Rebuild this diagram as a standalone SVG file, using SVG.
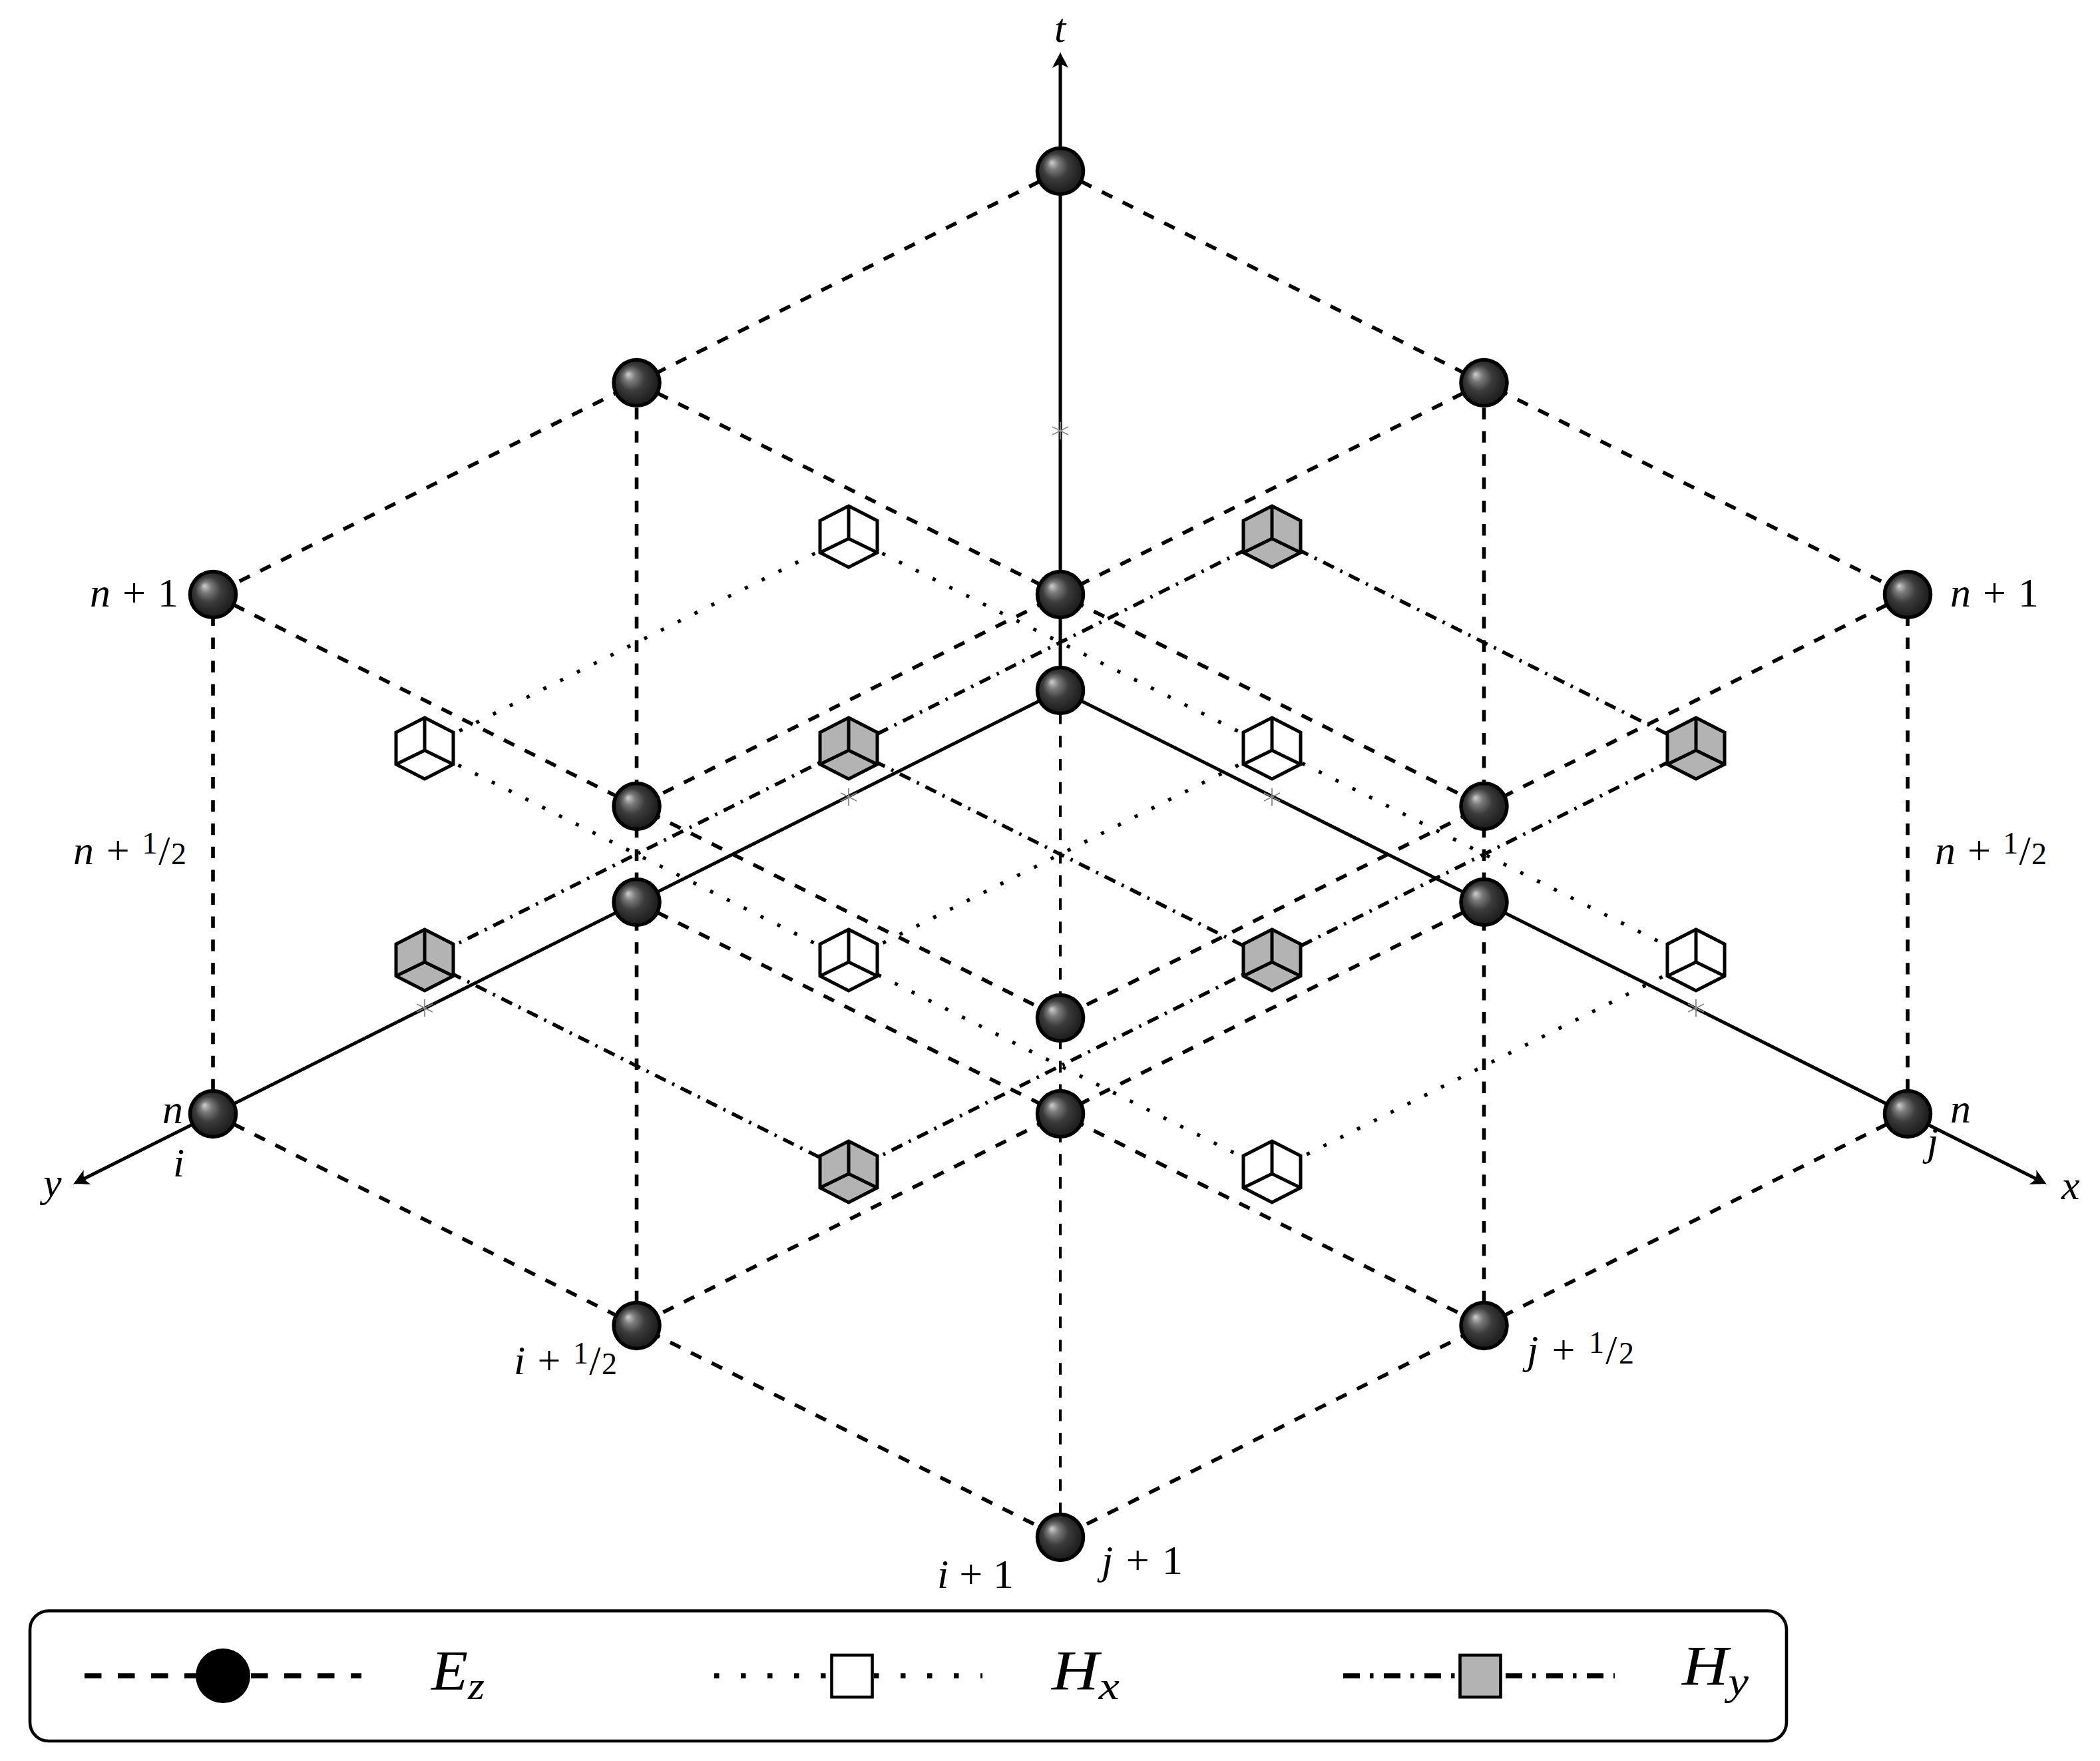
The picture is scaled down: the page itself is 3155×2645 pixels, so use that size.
<svg xmlns="http://www.w3.org/2000/svg" width="3155" height="2645" viewBox="0 0 3155 2645">
<style>
line{fill:none;stroke:#000}
.d{stroke-width:5.6;stroke-dasharray:17.4 17.5}
.dt{stroke-width:4;stroke-dasharray:17.4 17.5}
.o{stroke-width:5.4;stroke-dasharray:5 23.2}
.a{stroke-width:5.4;stroke-dasharray:17.8 10.8 3.6 10.8}
.s{stroke-width:5}
.x{stroke:#888;stroke-width:1.8}
.ball{fill:url(#ball);stroke:#000;stroke-width:5.5}
.c{stroke:#000;stroke-width:5;stroke-linejoin:miter}
.w{fill:#fff}.g{fill:#b3b3b3}
.in{fill:none;stroke:#000;stroke-width:5}
text{font-family:"Liberation Serif","Times New Roman",serif;font-size:62px;fill:#000}
.i{font-style:italic}
.m{font-size:84px;font-style:italic}
.sub{font-size:60px}
.f{font-size:46px}
</style>
<defs>
<radialGradient id="ball" cx="0.5" cy="0.5" r="0.62" fx="0.31" fy="0.31">
<stop offset="0" stop-color="#d0d0d0"/>
<stop offset="0.2" stop-color="#7a7a7a"/>
<stop offset="0.45" stop-color="#3c3c3c"/>
<stop offset="0.75" stop-color="#222"/>
<stop offset="1" stop-color="#1a1a1a"/>
</radialGradient>
<marker id="arr" markerUnits="userSpaceOnUse" markerWidth="30" markerHeight="30" refX="11" refY="15" orient="auto" viewBox="0 0 30 30">
<path d="M27 15C21 13 16 9 3 3C6 8 8 12 8 15C8 18 6 22 3 27C16 21 21 17 27 15Z" fill="#000"/>
</marker>
<g id="wc"><path class="c w" d="M0 -46L43 -24V24L0 46L-43 24V-24Z"/><path class="in" d="M0 -46V3M0 3L-43 24M0 3L43 24"/></g>
<g id="gc"><path class="c g" d="M0 -46L43 -24V24L0 46L-43 24V-24Z"/><path class="in" d="M0 -46V3M0 3L-43 24M0 3L43 24"/></g>
<g id="cr"><path class="x" fill="none" d="M0 -13V13M-12 -6L12 6M12 -6L-12 6"/></g>
</defs>
<rect width="3155" height="2645" fill="#fff"/>
<g id="connectors">
<line class="s" x1="1593" y1="1037" x2="1593" y2="94" marker-end="url(#arr)"/>
<line class="s" x1="1593" y1="1037" x2="124" y2="1771.500" marker-end="url(#arr)"/>
<line class="s" x1="1593" y1="1037" x2="3061" y2="1771.500" marker-end="url(#arr)"/>
<line class="d" x1="1593" y1="257" x2="320" y2="893"/>
<line class="d" x1="1593" y1="257" x2="2866" y2="893"/>
<line class="d" x1="320" y1="893" x2="1593" y2="1529"/>
<line class="d" x1="2866" y1="893" x2="1593" y2="1529"/>
<line class="d" x1="956.500" y1="575" x2="2229.500" y2="1211"/>
<line class="d" x1="2229.500" y1="575" x2="956.500" y2="1211"/>
<line class="d" x1="320" y1="1673" x2="1593" y2="2309"/>
<line class="d" x1="2866" y1="1673" x2="1593" y2="2309"/>
<line class="d" x1="956.500" y1="1355" x2="2229.500" y2="1991"/>
<line class="d" x1="2229.500" y1="1355" x2="956.500" y2="1991"/>
<line class="d" x1="320" y1="1673" x2="320" y2="893"/>
<line class="d" x1="2866" y1="1673" x2="2866" y2="893"/>
<line class="d" x1="956.500" y1="1991" x2="956.500" y2="575"/>
<line class="d" x1="2229.500" y1="1991" x2="2229.500" y2="575"/>
<line class="dt" x1="1593" y1="2309" x2="1593" y2="1037"/>
<line class="o" x1="1275" y1="806" x2="2548" y2="1442"/>
<line class="o" x1="638" y1="1124" x2="1911" y2="1760"/>
<line class="o" x1="1275" y1="806" x2="638" y2="1124"/>
<line class="o" x1="1911" y1="1124" x2="1275" y2="1442"/>
<line class="o" x1="2548" y1="1442" x2="1911" y2="1760"/>
<line class="a" x1="1911" y1="806" x2="2548" y2="1124"/>
<line class="a" x1="1275" y1="1124" x2="1911" y2="1442"/>
<line class="a" x1="638" y1="1442" x2="1275" y2="1760"/>
<line class="a" x1="1911" y1="806" x2="638" y2="1442"/>
<line class="a" x1="2548" y1="1124" x2="1275" y2="1760"/>
</g>
<g id="marks">
<use href="#cr" x="1593" y="647"/>
<use href="#cr" x="1275" y="1197"/>
<use href="#cr" x="1911" y="1197"/>
<use href="#cr" x="638" y="1514"/>
<use href="#cr" x="2548" y="1514"/>
</g>
<g id="hx-1"><use href="#wc" x="1275" y="806"/></g>
<g id="hx-2"><use href="#wc" x="638" y="1124"/></g>
<g id="hx-3"><use href="#wc" x="1911" y="1124"/></g>
<g id="hx-4"><use href="#wc" x="1275" y="1442"/></g>
<g id="hx-5"><use href="#wc" x="2548" y="1442"/></g>
<g id="hx-6"><use href="#wc" x="1911" y="1760"/></g>
<g id="hy-1"><use href="#gc" x="1911" y="806"/></g>
<g id="hy-2"><use href="#gc" x="1275" y="1124"/></g>
<g id="hy-3"><use href="#gc" x="2548" y="1124"/></g>
<g id="hy-4"><use href="#gc" x="638" y="1442"/></g>
<g id="hy-5"><use href="#gc" x="1911" y="1442"/></g>
<g id="hy-6"><use href="#gc" x="1275" y="1760"/></g>
<g id="ez-top"><circle class="ball" cx="1593" cy="257" r="34.500"/></g>
<g id="ez-2"><circle class="ball" cx="956.500" cy="575" r="34.500"/></g>
<g id="ez-3"><circle class="ball" cx="2229.500" cy="575" r="34.500"/></g>
<g id="ez-4"><circle class="ball" cx="320" cy="893" r="34.500"/></g>
<g id="ez-5"><circle class="ball" cx="1593" cy="893" r="34.500"/></g>
<g id="ez-6"><circle class="ball" cx="2866" cy="893" r="34.500"/></g>
<g id="ez-7"><circle class="ball" cx="956.500" cy="1211" r="34.500"/></g>
<g id="ez-8"><circle class="ball" cx="2229.500" cy="1211" r="34.500"/></g>
<g id="ez-9"><circle class="ball" cx="1593" cy="1529" r="34.500"/></g>
<g id="ez-10"><circle class="ball" cx="1593" cy="1037" r="34.500"/></g>
<g id="ez-11"><circle class="ball" cx="956.500" cy="1355" r="34.500"/></g>
<g id="ez-12"><circle class="ball" cx="2229.500" cy="1355" r="34.500"/></g>
<g id="ez-13"><circle class="ball" cx="320" cy="1673" r="34.500"/></g>
<g id="ez-14"><circle class="ball" cx="1593" cy="1673" r="34.500"/></g>
<g id="ez-15"><circle class="ball" cx="2866" cy="1673" r="34.500"/></g>
<g id="ez-16"><circle class="ball" cx="956.500" cy="1991" r="34.500"/></g>
<g id="ez-17"><circle class="ball" cx="2229.500" cy="1991" r="34.500"/></g>
<g id="ez-18"><circle class="ball" cx="1593" cy="2309" r="34.500"/></g>
<g id="labels">
<text class="i" x="1584" y="63">t</text>
<text class="i" x="65" y="1797">y</text>
<text class="i" x="3097" y="1801">x</text>
<text class="i" x="244" y="1687">n</text>
<text class="i" x="2930" y="1686">n</text>
<text class="i" x="260" y="1767">i</text>
<text class="i" x="2895" y="1735">j</text>
<text x="135" y="911" textLength="133" lengthAdjust="spacing"><tspan class="i">n</tspan> + 1</text>
<text x="2930" y="911" textLength="133" lengthAdjust="spacing"><tspan class="i">n</tspan> + 1</text>
<text x="110" y="1298" textLength="170" lengthAdjust="spacing"><tspan class="i">n</tspan> + <tspan class="f" dy="-16">1</tspan><tspan dy="16">/</tspan><tspan class="f">2</tspan></text>
<text x="2907" y="1298" textLength="168" lengthAdjust="spacing"><tspan class="i">n</tspan> + <tspan class="f" dy="-16">1</tspan><tspan dy="16">/</tspan><tspan class="f">2</tspan></text>
<text x="772" y="2064" textLength="155" lengthAdjust="spacing"><tspan class="i">i</tspan> + <tspan class="f" dy="-16">1</tspan><tspan dy="16">/</tspan><tspan class="f">2</tspan></text>
<text x="2294" y="2048" textLength="161" lengthAdjust="spacing"><tspan class="i">j</tspan> + <tspan class="f" dy="-16">1</tspan><tspan dy="16">/</tspan><tspan class="f">2</tspan></text>
<text x="1408" y="2385" textLength="115" lengthAdjust="spacing"><tspan class="i">i</tspan> + 1</text>
<text x="1655" y="2364" textLength="122" lengthAdjust="spacing"><tspan class="i">j</tspan> + 1</text>
</g>
<g id="legend">
<rect x="45" y="2419.500" width="2639" height="195.500" rx="28" ry="28" fill="#fff" stroke="#000" stroke-width="4.600"/>
<line x1="127" y1="2517" x2="543" y2="2517" stroke-width="7.500" stroke-dasharray="25.500 24.500"/>
<circle cx="335" cy="2517" r="41" fill="#000"/>
<line x1="1073" y1="2517" x2="1476" y2="2517" stroke-width="7.500" stroke-dasharray="7.500 32.500"/>
<rect x="1249.500" y="2486" width="61" height="63" fill="#fff" stroke="#000" stroke-width="4.600"/>
<line x1="2018" y1="2517" x2="2426" y2="2517" stroke-width="7.500" stroke-dasharray="25 15 5.500 15.500"/>
<rect x="2193.500" y="2486" width="61" height="63" fill="#b3b3b3" stroke="#000" stroke-width="4.600"/>
<text class="m" x="648" y="2538" textLength="80" lengthAdjust="spacingAndGlyphs">E<tspan class="sub" dy="14">z</tspan></text>
<text class="m" x="1580" y="2538" textLength="102" lengthAdjust="spacingAndGlyphs">H<tspan class="sub" dy="14">x</tspan></text>
<text class="m" x="2527" y="2531" textLength="100" lengthAdjust="spacingAndGlyphs">H<tspan class="sub" dy="14">y</tspan></text>
</g>
</svg>
